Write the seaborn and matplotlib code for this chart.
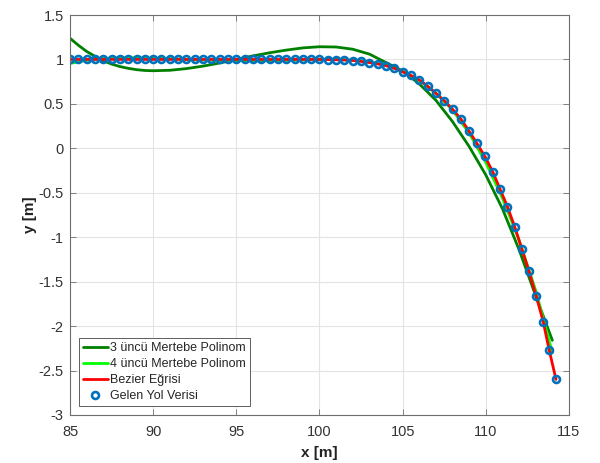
import numpy as np
import pandas as pd
import matplotlib
matplotlib.use("Agg")
import matplotlib.pyplot as plt
import seaborn as sns

# path data
data_x = [85.0, 85.5, 86.0, 86.5, 87.0, 87.5, 88.0, 88.5, 89.0, 89.5,
          90.0, 90.5, 91.0, 91.5, 92.0, 92.5, 93.0, 93.5, 94.0, 94.5,
          95.0, 95.5, 96.0, 96.5, 97.0, 97.5, 98.0, 98.5, 99.0, 99.5,
          100.0, 100.5, 101.0, 101.5, 102.0, 102.5, 103.0, 103.5, 104.0, 104.5,
          105.0, 105.5, 106.0, 106.5, 107.0, 107.5, 108.0, 108.5, 108.97, 109.45,
          109.94, 110.42, 110.84, 111.3, 111.73, 112.16, 112.59, 113.03, 113.45, 113.81,
          114.22]
data_y = [1.0, 1.0, 1.0, 1.0, 1.0, 1.0, 1.0, 1.0, 1.0, 1.0,
          1.0, 1.0, 1.0, 1.0, 1.0, 1.0, 1.0, 1.0, 1.0, 1.0,
          1.0, 1.0, 1.0, 1.0, 1.0, 1.0, 1.0, 1.0, 1.0, 1.0,
          1.0, 0.998, 0.996, 0.993, 0.988, 0.978, 0.965, 0.95, 0.93, 0.90,
          0.86, 0.82, 0.77, 0.70, 0.62, 0.535, 0.44, 0.33, 0.20, 0.06,
          -0.09, -0.265, -0.452, -0.656, -0.88, -1.13, -1.38, -1.66, -1.95, -2.27,
          -2.60]

# 3rd order polynomial
p3_x = [85, 85.5, 86, 86.5, 87, 87.5, 88, 88.5, 89, 89.5, 90, 91, 92, 93, 94, 95, 96, 97, 98, 99,
        100, 101, 102, 103, 104, 105, 106, 107, 108, 109, 110, 111, 112, 113, 114]
p3_y = [1.238, 1.16, 1.09, 1.035, 0.985, 0.948, 0.92, 0.9, 0.885, 0.876, 0.873, 0.878, 0.897, 0.925,
        0.96, 1.0, 1.04, 1.075, 1.105, 1.13,
        1.143, 1.14, 1.115, 1.06, 0.965, 0.87, 0.725, 0.54, 0.30, 0.02, -0.30, -0.68, -1.14, -1.66, -2.16]

# 4th order polynomial
p4_x = [85, 86, 87, 88, 89, 90, 91, 92, 93, 94, 95, 96, 97, 98, 99,
        100, 101, 102, 103, 104, 105, 106, 107, 108, 109, 110, 111, 112, 113, 114]
p4_y = [0.955, 0.99, 1.01, 1.02, 1.02, 1.015, 1.01, 1.0, 0.995, 0.99, 0.985, 0.985, 0.985, 0.99, 0.995,
        1.0, 1.0, 0.995, 0.975, 0.935, 0.865, 0.765, 0.62, 0.43, 0.17, -0.16, -0.56, -1.03, -1.6, -2.3]

sns.set_style("white")
plt.rcParams['font.family'] = ['Liberation Sans', 'DejaVu Sans']

fig = plt.figure(figsize=(6, 4.63), dpi=100)
ax = fig.add_axes([0.1167, 0.1037, 0.8316, 0.8639])

sns.lineplot(x=p3_x, y=p3_y, sort=False, color='#008000', lw=2, label='3 üncü Mertebe Polinom', ax=ax)
sns.lineplot(x=p4_x, y=p4_y, sort=False, color='#00ff00', lw=2, label='4 üncü Mertebe Polinom', ax=ax)
sns.lineplot(x=data_x, y=data_y, sort=False, color='#ff0000', lw=2, label='Bezier Eğrisi', ax=ax)
sns.lineplot(x=data_x, y=data_y, sort=False, linestyle='', marker='o', markersize=5,
             markerfacecolor='none', markeredgecolor='#0072BD', markeredgewidth=1.9,
             label='Gelen Yol Verisi', ax=ax)

ax.set_xlim(85, 115)
ax.set_ylim(-3, 1.5)
ax.set_xticks(np.arange(85, 116, 5))
ax.set_yticks(np.arange(-3, 1.51, 0.5))
ax.set_yticklabels(['-3', '-2.5', '-2', '-1.5', '-1', '-0.5', '0', '0.5', '1', '1.5'])
ax.grid(True, color='#e3e3e3', lw=0.8)
ax.set_axisbelow(True)
for s in ax.spines.values():
    s.set_color('#6e6e6e')
    s.set_linewidth(0.8)
ax.tick_params(direction='in', length=4, width=0.6, color='#6e6e6e', labelsize=10.5,
               labelcolor='#333333', top=True, right=True, bottom=True, left=True)
ax.tick_params(axis='x', pad=7)
ax.tick_params(axis='y', pad=4.5)
ax.set_xlabel('x [m]', fontsize=11, fontweight='bold', color='#222222', labelpad=5)
ax.set_ylabel('y [m]', fontsize=11, fontweight='bold', color='#222222', labelpad=1)

leg = ax.legend(loc='lower left', fontsize=9, frameon=True, fancybox=False, framealpha=1,
                edgecolor='#444444', handlelength=2.0, handletextpad=0.2, borderpad=0.3,
                labelspacing=0.33, borderaxespad=0.7)
leg.get_frame().set_linewidth(0.6)

fig.savefig('out.png', dpi=100)
